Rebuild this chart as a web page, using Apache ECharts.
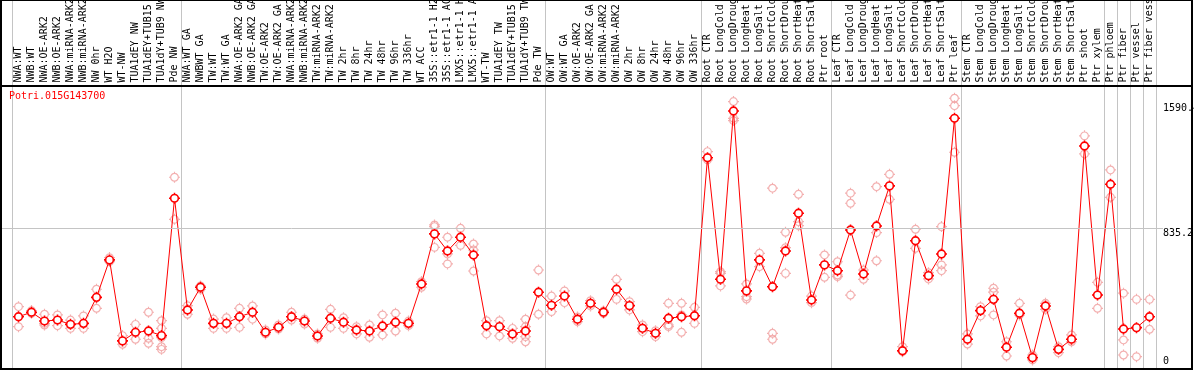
<!DOCTYPE html>
<html>
<head>
<meta charset="utf-8">
<script src="https://cdn.jsdelivr.net/npm/echarts@6/dist/echarts.min.js"></script>
<style>html,body{margin:0;padding:0;background:#fff}#chart{width:1194px;height:370px}</style>
</head>
<body>
<div id="chart"></div>
<script>
const geneName = 'Potri.015G143700';
const categories = [
  'NWA:WT','NWB:WT','NWA:OE-ARK2','NWB:OE-ARK2','NWA:miRNA-ARK2','NWB:miRNA-ARK2','NW 0hr','WT H2O','WT-NW','TUA1dEY NW','TUA1dEY+TUB15 NW','TUA1dY+TUB9 NW','Pde NW',
  'NWA:WT GA','NWBWT GA','TW:WT','TW:WT GA','NWA:OE-ARK2 GA','NWB:OE-ARK2 GA','TW:OE-ARK2','TW:OE-ARK2 GA','NWA:miRNA-ARK2','NWB:miRNA-ARK2','TW:miRNA-ARK2','TW:miRNA-ARK2',
  'TW 2hr','TW 8hr','TW 24hr','TW 48hr','TW 96hr','TW 336hr','WT ACC','35S::etr1-1 H2O','35S::etr1-1 ACC','LMX5::etr1-1 H2O','LMX5::etr1-1 ACC','WT-TW','TUA1dEY TW','TUA1dEY+TUB15 TW','TUA1dY+TUB9 TW','Pde TW',
  'OW:WT','OW:WT GA','OW:OE-ARK2','OW:OE-ARK2 GA','OW:miRNA-ARK2','OW:miRNA-ARK2','OW 2hr','OW 8hr','OW 24hr','OW 48hr','OW 96hr','OW 336hr',
  'Root CTR','Root LongCold','Root LongDrought','Root LongHeat','Root LongSalt','Root ShortCold','Root ShortDrought','Root ShortHeat','Root ShortSalt','Ptr root',
  'Leaf CTR','Leaf LongCold','Leaf LongDrought','Leaf LongHeat','Leaf LongSalt','Leaf ShortCold','Leaf ShortDrought','Leaf ShortHeat','Leaf ShortSalt','Ptr leaf',
  'Stem CTR','Stem LongCold','Stem LongDrought','Stem LongHeat','Stem LongSalt','Stem ShortCold','Stem ShortDrought','Stem ShortHeat','Stem ShortSalt',
  'Ptr shoot','Ptr xylem','Ptr phloem','Ptr fiber','Ptr vessel','Ptr fiber vessel'
];
const means = [
  301,328,275,281,255,261,418,644,155,207,215,187,1016,
  342,479,261,261,301,328,207,237,301,275,185,292,
  268,221,215,245,268,261,499,801,698,781,674,247,241,197,215,449,
  370,426,286,382,328,467,368,231,201,292,301,307,
  1261,527,1543,457,644,482,698,926,402,614,
  579,825,559,849,1091,96,760,549,680,1499,
  165,338,406,117,322,54,366,104,165,
  1332,432,1101,227,235,301
];
const replicates = [
  [362,241],[338,322],[316,251,261],[312,247],[281,231],[306,231],[467,352],[658,634],[187,135],[255,165],[328,171,141],[277,231,175,120,104],[1143,889],
  [368,316],[487,467],[287,231],[295,231],[352,237],[366,286],[221,197],[251,227],[328,281],[287,257],[171,197],[346,237],
  [295,231],[241,197],[251,177],[312,191],[322,215],[275,247],[513,479],[855,845,720],[781,680,620],[835,732],[740,704,577],[277,197],[277,185],[231,171],[286,241,181,150],[583,316],
  [426,332],[457,386],[271,300],[366,398],[322,336],[527,406],[392,342],[251,211],[217,181],[382,251,241],[382,312,207],[358,261],
  [1298,1248],[573,563,487],[1600,1499,1485],[499,422,408],[684,603],[1077,201,165],[811,718,563],[1040,875,851],[426,386],[674,539],
  [633,553,543],[1047,986,432],[583,527],[1086,809,639],[1161,1010],[120,90],[829,714],[567,529],[845,614,579],[1620,1575,1294],
  [197,136],[362,306],[473,449,312],[150,64],[382,312],[70,40],[382,346],[120,84],[191,150],
  [1393,1284],[509,352],[1187,1022],[443,161,70],[406,60],[406,225]
];
const yTickLabels = [835.2, 1590.4];
const yZeroLabel = [0];
const referenceLine = 835.2;
const groupStarts = [0,13,41,53,63,73,84,85,86,87];

const FONT = 'DejaVu Sans Mono';
const MARKER = 'path://M8.5,5A3.5,3.5,0,1,1,1.5,5A3.5,3.5,0,1,1,8.5,5ZM5,0L5,1.5M5,8.5L5,10M0,5L1.5,5M8.5,5L10,5';
const replicatePoints = [];
replicates.forEach((reps, i) => reps.forEach(v => replicatePoints.push([i, v])));
const boundarySet = new Set(groupStarts);
const splitCfg = {show: true, interval: (idx) => boundarySet.has(idx), lineStyle: {color: '#c4c4c4', width: 1}};

const chart = echarts.init(document.getElementById('chart'), null, {renderer: 'canvas'});
chart.setOption({
  animation: false,
  backgroundColor: '#fff',
  title: {text: geneName, left: 9, top: 91, padding: 0,
    textStyle: {color: '#ff0000', fontSize: 10, fontFamily: FONT, fontWeight: 'normal'}},
  grid: [
    {left: 12, right: 38, top: 85, bottom: 2, containLabel: false, outerBoundsMode: 'none'},
    {left: 12, right: 38, top: 0, height: 85, containLabel: false, outerBoundsMode: 'none'}
  ],
  xAxis: [
    {type: 'category', data: categories, position: 'top', gridIndex: 0,
     axisLine: {show: false}, axisTick: {show: false},
     axisLabel: {rotate: 90, interval: 0, margin: 2.5, color: '#000', fontSize: 10, fontFamily: FONT, hideOverlap: false},
     splitLine: splitCfg},
    {type: 'category', data: categories, gridIndex: 1,
     axisLine: {show: false}, axisTick: {show: false}, axisLabel: {show: false},
     splitLine: splitCfg}
  ],
  yAxis: [
    {type: 'value', gridIndex: 0, position: 'right', min: -8.5, max: 1700,
     axisLine: {show: false}, axisTick: {show: false}, splitLine: {show: false},
     axisLabel: {customValues: yTickLabels, verticalAlign: 'top', margin: 7, color: '#000', fontSize: 10, fontFamily: FONT,
       formatter: v => String(v)}},
    {type: 'value', gridIndex: 0, position: 'right', min: -8.5, max: 1700,
     axisLine: {show: false}, axisTick: {show: false}, splitLine: {show: false},
     axisLabel: {customValues: yZeroLabel, verticalAlign: 'bottom', margin: 7, color: '#000', fontSize: 10, fontFamily: FONT}},
    {type: 'value', gridIndex: 1, show: false}
  ],
  graphic: [
    {type: 'rect', silent: true, z: 100, shape: {x: 1, y: 0, width: 1191, height: 369},
     style: {fill: 'none', stroke: '#000', lineWidth: 2}},
    {type: 'line', silent: true, z: 100, shape: {x1: 1, y1: 86, x2: 1192, y2: 86},
     style: {stroke: '#000', lineWidth: 2}}
  ],
  series: [
    {type: 'scatter', xAxisIndex: 0, yAxisIndex: 0, data: replicatePoints,
     symbol: MARKER, symbolSize: 11, silent: true,
     itemStyle: {color: 'rgba(255,255,255,0)', borderColor: '#f09c9c', borderWidth: 1.2}},
    {type: 'line', xAxisIndex: 0, yAxisIndex: 0, data: means, clip: false,
     symbol: MARKER, symbolSize: 11, showAllSymbol: true, silent: true,
     lineStyle: {color: '#ff0000', width: 1},
     itemStyle: {color: '#ffffff', borderColor: '#ff0000', borderWidth: 1.6},
     markLine: {silent: true, symbol: 'none', label: {show: false},
       lineStyle: {color: '#c4c4c4', width: 1, type: 'solid'},
       data: [[{x: 1, yAxis: referenceLine}, {x: 1163, yAxis: referenceLine}]]}}
  ]
});
</script>
</body>
</html>
